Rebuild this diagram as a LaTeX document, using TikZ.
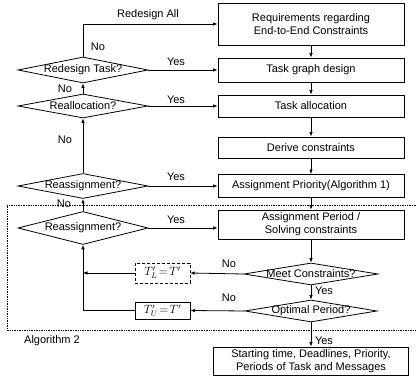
\documentclass[tikz,border=0pt]{standalone}
\usepackage{fontspec}
\setmainfont{Liberation Sans}
\usetikzlibrary{shapes.geometric,arrows.meta}
\begin{document}
\begin{tikzpicture}[x=1pt,y=-1pt,
  font=\fontsize{11}{13}\selectfont,
  box/.style={draw,line width=0.8pt,rectangle,minimum width=186pt,align=center,inner sep=0pt},
  dia/.style={draw,line width=0.8pt,diamond,inner sep=0pt},
  tbox/.style={draw,rectangle,minimum width=55pt,inner sep=0pt},
  arr/.style={line width=0.8pt,-{Latex[length=4.5pt,width=3.5pt]}},
  lbl/.style={inner sep=0pt}]
\useasboundingbox (0,0) rectangle (416,387);
% right column
\node[box,minimum height=42pt] (req) at (311,24) {Requirements regarding\\End-to-End Constraints};
\node[box,minimum height=24pt] (tg) at (311,70) {Task graph design};
\node[box,minimum height=22pt] (ta) at (311,106) {Task allocation};
\node[box,minimum height=21pt] (dc) at (311,147.5) {Derive constraints};
\node[box,minimum height=23pt] (ap) at (311,186) {Assignment Priority(Algorithm 1)};
\node[box,minimum height=29pt] (apd) at (311,224.5) {Assignment Period /\\Solving constraints};
\node[dia,minimum width=134pt,minimum height=22pt,label={center:Meet Constraints?}] (meet) at (311,274) {};
\node[dia,minimum width=132pt,minimum height=22pt,label={center:Optimal Period?}] (opt) at (311,311) {};
\node[box,minimum width=195pt,minimum height=28pt] (fin) at (311,361) {Starting time, Deadlines, Priority,\\Periods of Task and Messages};
% left column
\node[dia,minimum width=130pt,minimum height=26pt,label={center:Redesign Task?}] (rt) at (83,70) {};
\node[dia,minimum width=130pt,minimum height=24pt,label={center:Reallocation?}] (ra) at (83,106) {};
\node[dia,minimum width=130pt,minimum height=25pt,label={center:Reassignment?}] (rs1) at (83,186) {};
\node[dia,minimum width=130pt,minimum height=33pt,label={center:Reassignment?}] (rs2) at (83,228) {};
\node[tbox,densely dashed,minimum height=20pt,font=\fontsize{12}{13}\selectfont] (tl) at (162.5,273) {$T'_L\!=\!T'$};
\node[tbox,line width=0.7pt,minimum height=17pt,font=\fontsize{12}{13}\selectfont] (tu) at (162.5,310.5) {$T'_U\!=\!T'$};
% dotted frame
\draw[densely dotted,line width=0.7pt] (416,205) -- (7,205) -- (7,330) -- (416,330);
% main flow
\draw[arr] (req) -- (tg);
\draw[arr] (tg) -- (ta);
\draw[arr] (ta) -- (dc);
\draw[arr] (dc) -- (ap);
\draw[arr] (ap) -- (apd);
\draw[arr] (apd) -- (meet);
\draw[arr] (meet) -- (opt);
\draw[arr] (opt) -- (fin);
% left decisions
\draw[arr] (rt.north) |- (req.west);
\draw[arr] (rt.east) -- (tg.west);
\draw[arr] (ra.north) -- (rt.south);
\draw[arr] (ra.east) -- (ta.west);
\draw[arr] (rs1.north) -- (ra.south);
\draw[arr] (rs1.east) -- (ap.west);
\draw[arr] (rs2.north) -- (rs1.south);
\draw[arr] (rs2.east) -- (rs2.east -| apd.west);
\draw[arr] (meet.west) -- (tl.east);
\draw[arr] (opt.west) -- (tu.east);
\coordinate (lp) at (rs2.south |- tu.west);
\draw[arr,line width=0.6pt] (tl.west) -- (tl.west -| rs2.south);
\draw[arr,line width=0.6pt] (tu.west) -- (lp) -- (rs2.south);
% labels
\node[lbl] (l1) at (148,15) {Redesign All};
\node[lbl] (l2) at (98,47) {No};
\node[lbl] (l3) at (176,62) {Yes};
\node[lbl] (l4) at (65,89) {No};
\node[lbl] (l5) at (176,100) {Yes};
\node[lbl] (l6) at (65,140) {No};
\node[lbl] (l7) at (176,177) {Yes};
\node[lbl] (l8) at (64,204) {No};
\node[lbl] (l9) at (176,220) {Yes};
\node[lbl] (l10) at (229,264) {No};
\node[lbl] (l11) at (229,298) {No};
\node[lbl] (l12) at (324,291) {Yes};
\node[lbl] (l13) at (324,341) {Yes};
\node[lbl] (l14) at (52,341) {Algorithm 2};
\end{tikzpicture}
\end{document}
